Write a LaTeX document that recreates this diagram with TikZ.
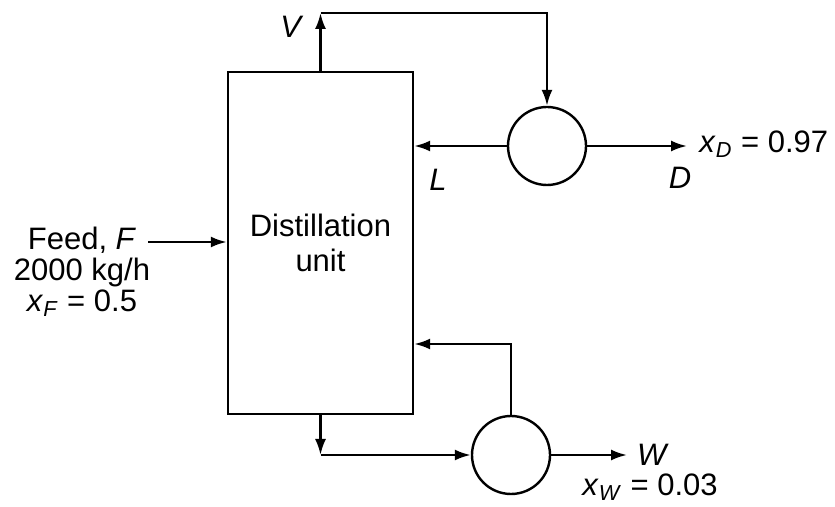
\documentclass[tikz,border=0pt]{standalone}
\usepackage{fontspec}
\setmainfont{Liberation Sans}
\usetikzlibrary{arrows.meta, positioning, calc}
\newcommand{\xsub}[1]{\textit{x}\textsubscript{\textit{#1}}}
\begin{document}
\begin{tikzpicture}[
    x=0.5pt, y=-0.5pt,
    every node/.style={font=\fontsize{15.5}{15.5}\selectfont},
    unit/.style={draw, line width=1.2pt, minimum width=92.5pt, minimum height=171pt, align=center, inner sep=0pt, font=\fontsize{15.5}{17.5}\selectfont},
    hx/.style={circle, draw, line width=1.2pt, minimum size=39pt, inner sep=0pt},
    a/.style={-{Latex[length=8pt, width=5.5pt]}, line width=1.2pt},
    lbl/.style={inner sep=1pt}
]
\useasboundingbox (0,0) rectangle (835,507);
% column
\node[unit] (col) at (320.5,243) {Distillation\\unit};
% condenser and reboiler
\node[hx] (cond) at (547,146) {};
\node[hx] (reb)  at (511,455) {};
% vapour to condenser
\coordinate (vy) at (0,13);
\coordinate (vc) at (col.north |- vy);
\draw[a] (col.north) -- (vc);
\draw[a] (vc) -| (cond.north);
\node[lbl] (vl) at (292,27) {\textit{V}};
% reflux and distillate
\draw[a] (cond.west) -- (cond.west -| col.east);
\node[lbl] (ll) at (438,180) {\textit{L}};
\coordinate (dout) at (687,146);
\draw[a] (cond.east) -- (dout);
\node[lbl] (dl) at (680,178) {\textit{D}};
\node[lbl, anchor=west] (xd) at (697,144) {\xsub{D} = 0.97};
% feed
\coordinate (fin) at (148,242);
\draw[a] (fin) -- (fin -| col.west);
\node[lbl, align=center] (feed) at (82,272) {Feed, \textit{F}\\2000 kg/h\\\xsub{F} = 0.5};
% bottoms to reboiler
\coordinate (bc) at (col.south |- reb.west);
\draw[a] (col.south) -- (bc);
\draw[a] (bc) -- (reb.west);
\coordinate (by) at (0,344);
\draw[a] (reb.north) |- (col.east |- by);
\coordinate (wout) at (627,455);
\draw[a] (reb.east) -- (wout);
\node[lbl] (wl) at (653,455) {\textit{W}};
\node[lbl] (xw) at (650,487) {\xsub{W} = 0.03};
\end{tikzpicture}
\end{document}
